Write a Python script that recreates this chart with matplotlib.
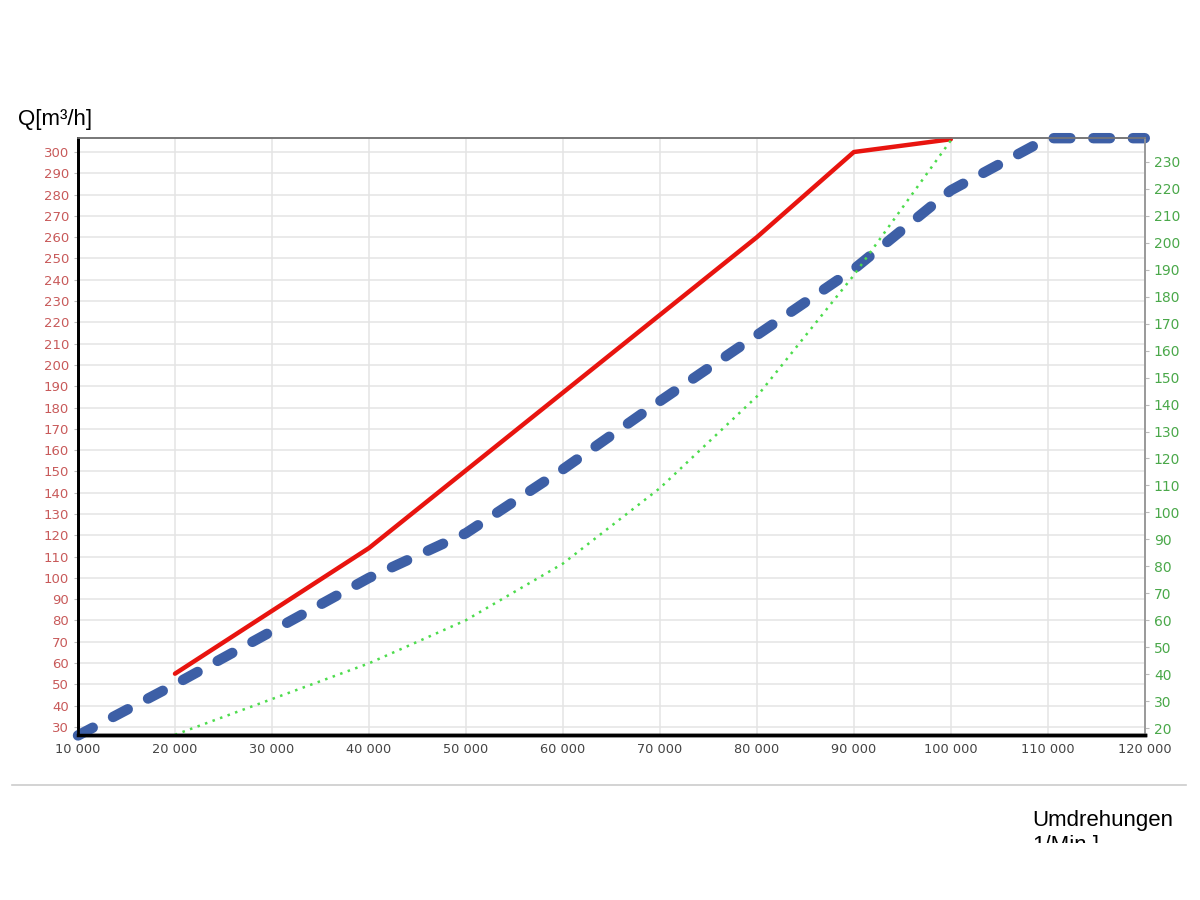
import matplotlib.pyplot as plt
from matplotlib.ticker import FuncFormatter
from matplotlib.patches import Rectangle
from matplotlib.lines import Line2D

# speed [1/min]
rpm_red = [20000, 40000, 60000, 80000, 90000, 100000]
q_red = [55, 114, 187, 260, 300, 306]

rpm_blue = [10000, 20000, 40000, 50000, 60000, 70000, 80000, 90000, 100000, 110000, 120000]
q_blue = [26, 50, 100, 121, 151, 183, 214, 245, 282, 306.5, 306.5]

rpm_green = [20000, 40000, 50000, 60000, 70000, 80000, 90000, 100000]
p_green = [17.5, 44, 60, 81, 109, 143, 188, 238]

left_ticks = list(range(30, 301, 10))
right_ticks = list(range(20, 231, 10))
x_ticks = list(range(10000, 120001, 10000))

fig = plt.figure(figsize=(12, 9), dpi=100)
ax = fig.add_axes([0.065, 0.1833, 0.889, 0.6634])
ax2 = ax.twinx()

ax.set_xlim(10000, 120000)
ax.set_ylim(26.2, 306.6)
ax2.set_ylim(17.4, 238.9)

ax.set_xticks(x_ticks)
ax.xaxis.set_major_formatter(FuncFormatter(lambda v, p: "{:,}".format(int(v)).replace(",", " ")))
ax.set_yticks(left_ticks)
ax2.set_yticks(right_ticks)

ax.grid(True, color="#e4e4e4", lw=1.1)
ax.set_axisbelow(True)

ax.tick_params(axis="y", labelcolor="#c85a5a", color="#bbbbbb", labelsize=9.5, length=3, width=0.8)
ax2.tick_params(axis="y", labelcolor="#4aa84a", color="#bbbbbb", labelsize=10, length=3)
ax.tick_params(axis="x", labelcolor="#444444", color="#bbbbbb", labelsize=9.3, length=0, pad=6)

for a in (ax, ax2):
    a.spines["left"].set_color("black")
    a.spines["left"].set_linewidth(2)
    a.spines["bottom"].set_color("black")
    a.spines["bottom"].set_linewidth(2.5)
    a.spines["top"].set_color("#777777")
    a.spines["top"].set_linewidth(1.2)
    a.spines["right"].set_color("#999999")
    a.spines["right"].set_linewidth(1.2)

ax.plot(rpm_red, q_red, color="#e8140f", lw=3.2, solid_capstyle="round", zorder=4, clip_on=False)
ax.plot(rpm_blue, q_blue, color="#3d5fa6", lw=7.5, dashes=(1.6, 2.2), dash_capstyle="round",
        zorder=3, clip_on=False)
ax2.plot(rpm_green, p_green, color="#4ddc4d", lw=1.8, linestyle=(0, (1, 2.2)), zorder=2)

fig.text(0.015, 0.867, "Q[m³/h]", fontsize=16, family="Liberation Sans", va="center")
fig.add_artist(Line2D([0.01, 0.988], [0.128, 0.128], color="#cccccc", lw=1.2))
fig.text(0.86, 0.088, "Umdrehungen", fontsize=16, family="Liberation Sans", va="center")
fig.text(0.86, 0.060, "1/Min.]", fontsize=16, family="Liberation Sans", va="center")
fig.add_artist(Rectangle((0.8, 0.0), 0.2, 0.063, transform=fig.transFigure,
                         facecolor="white", edgecolor="none", zorder=10))

fig.savefig("out.png", dpi=100)
